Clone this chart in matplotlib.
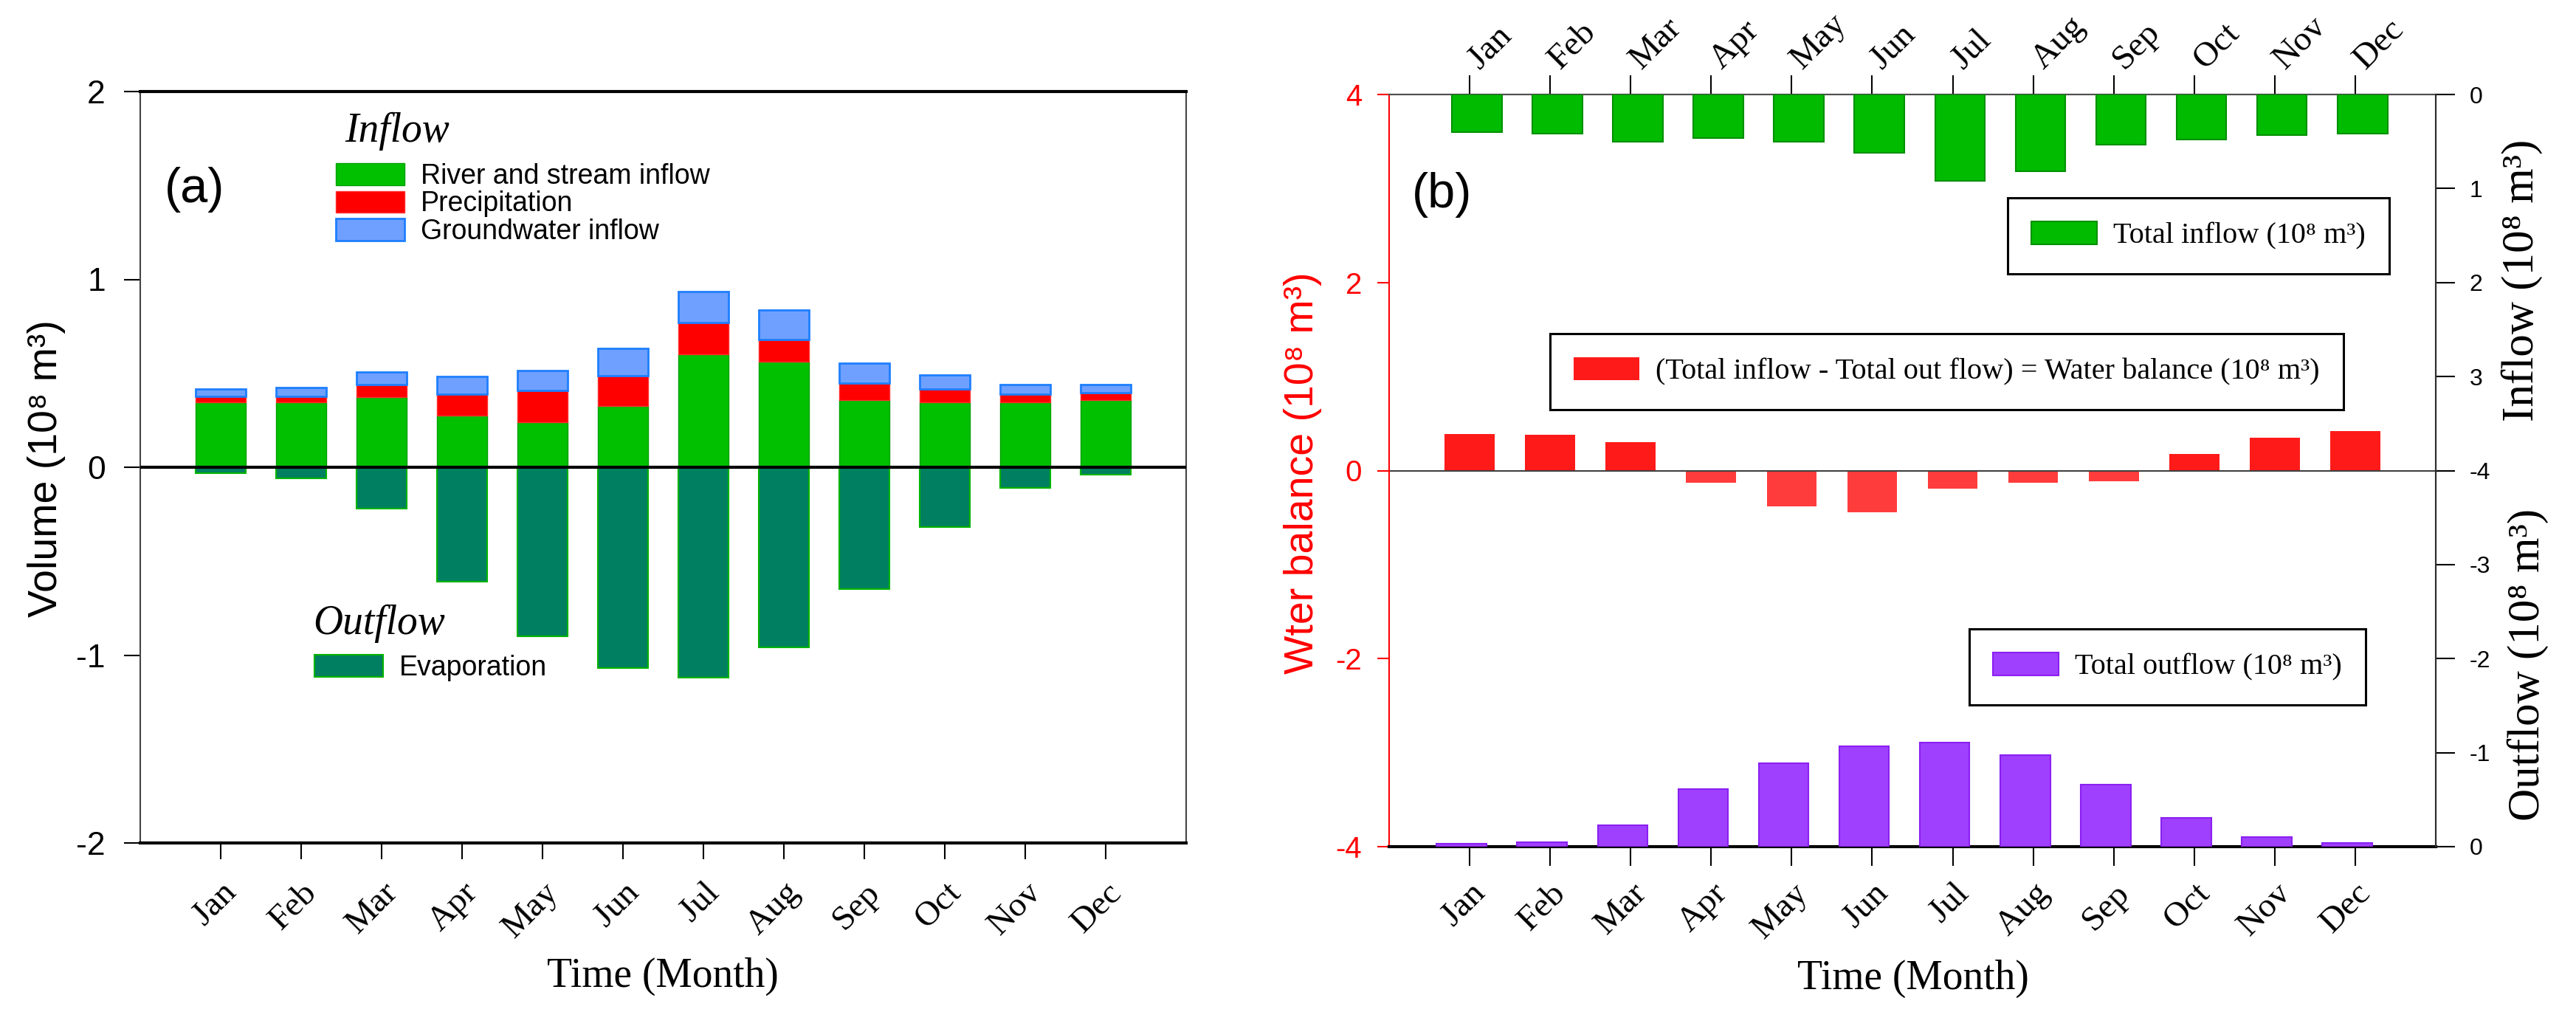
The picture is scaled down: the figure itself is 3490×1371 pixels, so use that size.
import numpy as np
import matplotlib
matplotlib.use("Agg")
import matplotlib.pyplot as plt
from matplotlib.transforms import ScaledTranslation

# Monthly values (10^8 m^3)
MONTHS = ["Jan", "Feb", "Mar", "Apr", "May", "Jun",
          "Jul", "Aug", "Sep", "Oct", "Nov", "Dec"]

RIVER_INFLOW = [0.347, 0.347, 0.374, 0.277, 0.239, 0.326, 0.602, 0.563, 0.358, 0.347, 0.347, 0.358]
PRECIPITATION = [0.030, 0.030, 0.065, 0.112, 0.168, 0.162, 0.170, 0.118, 0.091, 0.071, 0.042, 0.038]
GROUNDWATER_INFLOW = [0.039, 0.049, 0.066, 0.095, 0.107, 0.145, 0.165, 0.154, 0.105, 0.073, 0.053, 0.046]
EVAPORATION = [-0.03, -0.06, -0.22, -0.61, -0.90, -1.07, -1.12, -0.96, -0.65, -0.32, -0.11, -0.04]

TOTAL_INFLOW = [0.40, 0.42, 0.50, 0.46, 0.50, 0.62, 0.92, 0.82, 0.53, 0.48, 0.43, 0.42]
WATER_BALANCE = [0.39, 0.38, 0.30, -0.13, -0.38, -0.44, -0.19, -0.13, -0.11, 0.18, 0.35, 0.42]
TOTAL_OUTFLOW = [-0.03, -0.05, -0.23, -0.61, -0.89, -1.07, -1.11, -0.97, -0.66, -0.31, -0.10, -0.04]

# Configuration
W, H = 3491, 1371
DPI = 100
SANS = ["Liberation Sans", "DejaVu Sans"]
SERIF = ["Liberation Serif", "DejaVu Serif"]
BAR_W = 0.62
MONTH_SIZE = 34


def fx(px):
    return px / W


def fy(py):
    return 1 - py / H


def main():
    plt.rcParams["font.family"] = SANS
    plt.rcParams["axes.unicode_minus"] = False

    x = np.arange(1, 13)
    river = np.array(RIVER_INFLOW)
    precip = np.array(PRECIPITATION)
    ground = np.array(GROUNDWATER_INFLOW)
    balance = np.array(WATER_BALANCE)

    fig = plt.figure(figsize=(W / DPI, H / DPI), dpi=DPI)

    # ---- Panel (a) ----
    ax_a = fig.add_axes([fx(190), fy(1142), (1607 - 190) / W, (1142 - 124) / H])

    b_river = ax_a.bar(x, river, BAR_W, color="#00c000", edgecolor="#00a000",
                       lw=1, label="River and stream inflow")
    b_prec = ax_a.bar(x, precip, BAR_W, bottom=river, color="#ff0000",
                      edgecolor="#ff3030", lw=1, label="Precipitation")
    b_gw = ax_a.bar(x, ground, BAR_W, bottom=river + precip, color="#6fa0ff",
                    edgecolor="#1e7fff", lw=2, label="Groundwater inflow")
    b_evap = ax_a.bar(x, EVAPORATION, BAR_W, color="#008060", edgecolor="#00b400",
                      lw=1.5, label="Evaporation")
    ax_a.axhline(0, color="black", lw=3, zorder=3)

    ax_a.set_xlim(0, 13)
    ax_a.set_ylim(-2, 2)
    ax_a.set_yticks([-2, -1, 0, 1, 2])
    ax_a.tick_params(axis="y", direction="out", length=16, width=1.5, pad=18, labelsize=32)
    ax_a.set_xticks(x, MONTHS, rotation=45, ha="right", va="top",
                    rotation_mode="anchor", fontsize=MONTH_SIZE, family=SERIF)
    ax_a.tick_params(axis="x", direction="out", length=16, width=1.5, pad=17)
    for s in ["top", "bottom"]:
        ax_a.spines[s].set_linewidth(3)
    for s in ["left", "right"]:
        ax_a.spines[s].set_linewidth(1.5)
        ax_a.spines[s].set_color("#444444")

    leg_kw = dict(loc="upper left", frameon=False, borderpad=0, borderaxespad=0,
                  handlelength=2.47, handleheight=0.85, handletextpad=0.59,
                  labelspacing=0.04, fontsize=27)
    fig.legend(handles=[b_river, b_prec, b_gw], bbox_to_anchor=(fx(455), fy(221)), **leg_kw)
    fig.legend(handles=[b_evap], bbox_to_anchor=(fx(426), fy(887)), **leg_kw)

    fig.text(fx(467), fy(192), "Inflow", fontsize=40, style="italic", family=SERIF, va="baseline")
    fig.text(fx(424), fy(859), "Outflow", fontsize=40, style="italic", family=SERIF, va="baseline")
    fig.text(fx(223), fy(257), "(a)", fontsize=48, va="center")
    fig.text(fx(63), fy(635), "Volume (10⁸ m³)", rotation=90, ha="center", va="center", fontsize=40)
    fig.text(fx(898), fy(1337), "Time (Month)", ha="center", va="baseline", fontsize=40, family=SERIF)

    # ---- Panel (b) ----
    ax_b = fig.add_axes([fx(1882), fy(1147), (3300 - 1882) / W, (1147 - 128) / H])
    wb_colors = np.where(balance >= 0, "#ff1a1a", "#ff3c3c")
    b_wb = ax_b.bar(x, balance, BAR_W, color=wb_colors,
                    label="(Total inflow - Total out flow) = Water balance (10⁸ m³)")
    ax_b.axhline(0, color="#404040", lw=1.5)

    ax_b.set_xlim(0, 13)
    ax_b.set_ylim(-4, 4)
    ax_b.set_yticks([-4, -2, 0, 2, 4])
    ax_b.tick_params(axis="y", colors="red", length=11.5, width=1.5, pad=15, labelsize=29)
    ax_b.set_xticks(x, MONTHS, rotation=45, ha="right", va="top",
                    rotation_mode="anchor", fontsize=MONTH_SIZE, family=SERIF)
    ax_b.tick_params(axis="x", length=19, width=1.5, pad=11)
    ax_b.spines["left"].set_color("red")
    ax_b.spines["left"].set_linewidth(1.5)
    ax_b.spines["bottom"].set_linewidth(3)
    ax_b.spines["top"].set_linewidth(1.5)
    ax_b.spines["top"].set_color("#505050")

    top = ax_b.secondary_xaxis("top")
    top.set_xticks(x, MONTHS, rotation=45, ha="left", va="baseline",
                   rotation_mode="anchor", fontsize=MONTH_SIZE, family=SERIF)
    top.tick_params(length=19, width=1.5, pad=5)
    top.spines["top"].set_linewidth(1.5)
    top.spines["top"].set_color("#505050")
    shift = ScaledTranslation(14 / DPI, 0, fig.dpi_scale_trans)
    for lbl in top.get_xticklabels():
        lbl.set_transform(lbl.get_transform() + shift)

    # inflow hangs from the top, outflow rises from the bottom
    ax_in = ax_b.twinx()
    b_in = ax_in.bar(x + 0.09, TOTAL_INFLOW, BAR_W, color="#00bb00", edgecolor="#009000",
                     lw=1.5, label="Total inflow (10⁸ m³)")
    ax_in.set_ylim(8, 0)
    ax_in.set_yticks([0, 1, 2, 3])

    ax_out = ax_b.twinx()
    b_out = ax_out.bar(x - 0.1, TOTAL_OUTFLOW, BAR_W, color="#a040ff", edgecolor="#8a20f0",
                       lw=1.5, label="Total outflow (10⁸ m³)")
    ax_out.set_ylim(0, -8)
    ax_out.set_yticks([-4, -3, -2, -1, 0])

    for axt in (ax_in, ax_out):
        for s in ["top", "left", "bottom"]:
            axt.spines[s].set_visible(False)
        axt.spines["right"].set_linewidth(1.5)
        axt.spines["right"].set_color("#303030")
        axt.tick_params(axis="y", length=19, width=1.5, pad=14, labelsize=23)

    box_kw = dict(loc="upper left", frameon=True, fancybox=False, edgecolor="black",
                  framealpha=1, borderpad=0.8, borderaxespad=0, handlelength=2.2,
                  handleheight=0.78, handletextpad=0.55, prop={"family": SERIF, "size": 29})
    for handle, (px, py) in [(b_in, (2720, 268)), (b_wb, (2100, 452)), (b_out, (2668, 852))]:
        leg = fig.legend(handles=[handle], bbox_to_anchor=(fx(px), fy(py)), **box_kw)
        leg.get_frame().set_linewidth(2.2)

    fig.text(fx(1913), fy(264), "(b)", fontsize=48, va="center")
    fig.text(fx(1765), fy(641), "Wter balance (10⁸ m³)", color="red", rotation=90,
             ha="center", va="center", fontsize=40)
    fig.text(fx(3417), fy(380), "Inflow (10⁸ m³)", rotation=90, ha="center", va="center",
             fontsize=44, family=SERIF)
    fig.text(fx(3425), fy(900), "Outflow (10⁸ m³)", rotation=90, ha="center", va="center",
             fontsize=44, family=SERIF)
    fig.text(fx(2592), fy(1340), "Time (Month)", ha="center", va="baseline", fontsize=40, family=SERIF)

    fig.savefig("out.png", dpi=DPI)


if __name__ == "__main__":
    main()
